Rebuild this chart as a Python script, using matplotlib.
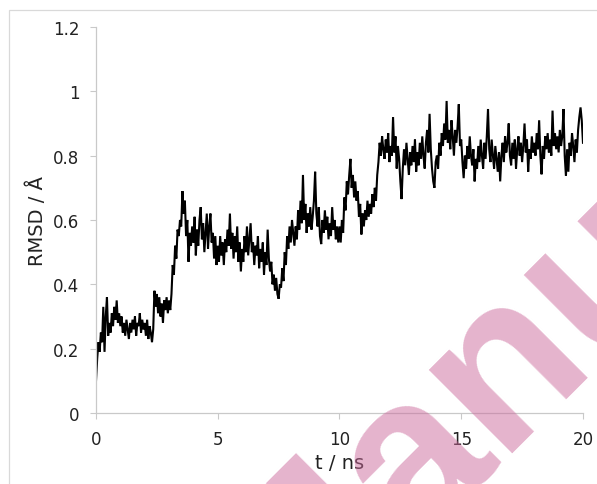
"""RMSD of the trajectory over 20 ns (single trace, Excel-style axes)."""
import numpy as np
import matplotlib

matplotlib.use("Agg")
import matplotlib.pyplot as plt
from matplotlib.patches import Rectangle

T_STEP_NS = 0.05

# RMSD / Å, one value every 0.05 ns
rmsd_00_05 = [
    0.10, 0.17, 0.22, 0.19, 0.25, 0.22, 0.33, 0.19, 0.30, 0.36, 0.24, 0.28, 0.25, 0.31, 0.27, 0.33, 0.29, 0.35, 0.28, 0.31,
    0.27, 0.30, 0.25, 0.28, 0.24, 0.29, 0.26, 0.23, 0.28, 0.25, 0.29, 0.26, 0.30, 0.24, 0.28, 0.27, 0.31, 0.25, 0.29, 0.26,
    0.28, 0.24, 0.29, 0.23, 0.27, 0.25, 0.22, 0.26, 0.38, 0.33, 0.37, 0.31, 0.36, 0.30, 0.34, 0.28, 0.35, 0.32, 0.36, 0.31,
    0.35, 0.32, 0.37, 0.46, 0.43, 0.52, 0.48, 0.57, 0.55, 0.60, 0.58, 0.69, 0.62, 0.66, 0.55, 0.60, 0.47, 0.56, 0.52, 0.58,
    0.53, 0.61, 0.49, 0.57, 0.52, 0.60, 0.64, 0.54, 0.59, 0.50, 0.56, 0.62, 0.51, 0.58, 0.62, 0.53, 0.56, 0.48, 0.55, 0.46,
]
rmsd_05_10 = [
    0.52, 0.47, 0.55, 0.49, 0.53, 0.46, 0.54, 0.50, 0.57, 0.52, 0.62, 0.51, 0.56, 0.48, 0.55, 0.50, 0.58, 0.47, 0.53, 0.44,
    0.51, 0.47, 0.55, 0.50, 0.58, 0.49, 0.54, 0.59, 0.50, 0.53, 0.46, 0.52, 0.49, 0.55, 0.45, 0.51, 0.47, 0.53, 0.43, 0.50,
    0.46, 0.57, 0.48, 0.44, 0.47, 0.40, 0.43, 0.38, 0.42, 0.37, 0.355, 0.40, 0.39, 0.45, 0.41, 0.50, 0.46, 0.55, 0.51, 0.58,
    0.53, 0.60, 0.56, 0.52, 0.58, 0.54, 0.63, 0.57, 0.66, 0.59, 0.74, 0.60, 0.65, 0.56, 0.62, 0.58, 0.64, 0.57, 0.61, 0.66,
    0.75, 0.62, 0.58, 0.64, 0.55, 0.525, 0.60, 0.56, 0.63, 0.57, 0.61, 0.54, 0.59, 0.55, 0.64, 0.57, 0.60, 0.54, 0.58, 0.53,
]
rmsd_10_15 = [
    0.58, 0.53, 0.60, 0.56, 0.67, 0.63, 0.72, 0.68, 0.74, 0.79, 0.70, 0.74, 0.67, 0.72, 0.66, 0.69, 0.61, 0.65, 0.555, 0.62,
    0.58, 0.63, 0.60, 0.66, 0.61, 0.65, 0.62, 0.68, 0.64, 0.70, 0.66, 0.74, 0.78, 0.84, 0.80, 0.86, 0.82, 0.79, 0.85, 0.81,
    0.87, 0.78, 0.83, 0.80, 0.92, 0.81, 0.86, 0.76, 0.83, 0.79, 0.72, 0.665, 0.76, 0.82, 0.77, 0.84, 0.79, 0.74, 0.81, 0.77,
    0.83, 0.78, 0.85, 0.75, 0.81, 0.77, 0.84, 0.79, 0.86, 0.80, 0.76, 0.84, 0.88, 0.81, 0.93, 0.82, 0.76, 0.72, 0.70, 0.78,
    0.80, 0.76, 0.84, 0.80, 0.87, 0.83, 0.90, 0.85, 0.97, 0.84, 0.88, 0.82, 0.91, 0.86, 0.80, 0.88, 0.84, 0.89, 0.96, 0.83,
]
rmsd_15_20 = [
    0.85, 0.78, 0.73, 0.80, 0.76, 0.83, 0.79, 0.86, 0.80, 0.77, 0.82, 0.72, 0.79, 0.76, 0.83, 0.78, 0.85, 0.80, 0.76, 0.84,
    0.79, 0.86, 0.945, 0.82, 0.78, 0.85, 0.80, 0.76, 0.83, 0.79, 0.75, 0.81, 0.72, 0.80, 0.84, 0.78, 0.86, 0.81, 0.84, 0.90,
    0.80, 0.77, 0.84, 0.79, 0.85, 0.76, 0.82, 0.86, 0.80, 0.84, 0.78, 0.83, 0.90, 0.81, 0.85, 0.75, 0.82, 0.79, 0.86, 0.81,
    0.84, 0.80, 0.87, 0.82, 0.91, 0.80, 0.742, 0.83, 0.79, 0.86, 0.82, 0.87, 0.81, 0.85, 0.80, 0.94, 0.83, 0.87, 0.82, 0.86,
    0.81, 0.88, 0.83, 0.86, 0.945, 0.80, 0.737, 0.82, 0.75, 0.84, 0.80, 0.87, 0.83, 0.78, 0.85, 0.81, 0.88, 0.92, 0.95, 0.91,
    0.84,
]

x_ticks = [0, 5, 10, 15, 20]
y_ticks = [0, 0.2, 0.4, 0.6, 0.8, 1.0, 1.2]
y_ticklabels = ["0", "0.2", "0.4", "0.6", "0.8", "1", "1.2"]

AXIS_GREY = "#c9c9c9"
TEXT_COL = "#222222"


def main() -> None:
    plt.rcParams["font.family"] = ["DejaVu Sans"]

    rmsd = np.array(rmsd_00_05 + rmsd_05_10 + rmsd_10_15 + rmsd_15_20)
    t = np.arange(len(rmsd)) * T_STEP_NS

    fig = plt.figure(figsize=(5.97, 4.85), dpi=100)
    ax = fig.add_axes([0.1608, 0.1464, 0.8157, 0.7959])

    ax.plot(t, rmsd, color="black", lw=1.5, solid_joinstyle="miter")

    ax.set_xlim(0, 20)
    ax.set_ylim(0, 1.2)
    ax.set_xticks(x_ticks)
    ax.set_yticks(y_ticks)
    ax.set_yticklabels(y_ticklabels)
    ax.tick_params(axis="both", direction="out", length=4.5, width=0.8,
                   color=AXIS_GREY, labelsize=12, labelcolor=TEXT_COL)
    ax.tick_params(axis="y", pad=7.5)
    ax.tick_params(axis="x", pad=8)

    for side in ("top", "right"):
        ax.spines[side].set_visible(False)
    for side in ("left", "bottom"):
        ax.spines[side].set_color(AXIS_GREY)
        ax.spines[side].set_linewidth(0.9)

    ax.set_xlabel("t / ns", fontsize=14, color=TEXT_COL, labelpad=3)
    ax.set_ylabel("RMSD / Å", fontsize=14, color=TEXT_COL, labelpad=4)

    # chart-area border (light grey, runs off the right/bottom edges)
    fig.add_artist(Rectangle((0.0151, -0.05), 1.1, 0.9773 + 0.05,
                             transform=fig.transFigure, fill=False,
                             edgecolor="#d9d9d9", lw=0.9))

    # pink diagonal watermark over the plot
    fig.text(0.468, -0.385, "Manuscript", transform=fig.transFigure,
             rotation=45, rotation_mode="anchor", ha="left", va="baseline",
             fontsize=160, fontweight="bold", family="Liberation Sans",
             color="#cb699b", alpha=0.5, zorder=5)

    fig.savefig("out.png", dpi=100)
    plt.close(fig)


if __name__ == "__main__":
    main()
